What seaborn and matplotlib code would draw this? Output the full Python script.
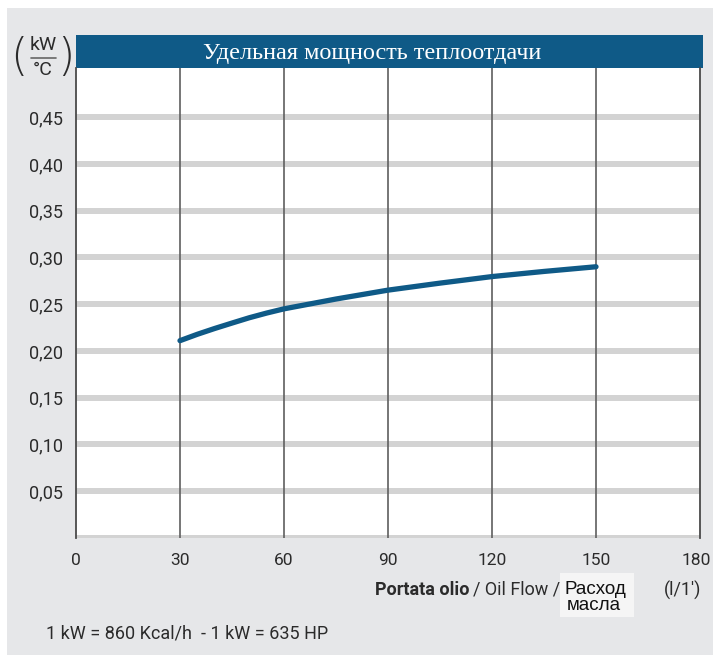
import matplotlib
matplotlib.use("Agg")
import matplotlib.pyplot as plt
import matplotlib.transforms as mtransforms
import seaborn as sns
from matplotlib.patches import Rectangle
from matplotlib.lines import Line2D

# data
flow = [30, 35, 40, 45, 50, 55, 60, 75, 90, 105, 120, 135, 150]
power = [0.211, 0.2178, 0.224, 0.2298, 0.2355, 0.2405, 0.245, 0.2555, 0.265,
         0.2725, 0.2795, 0.285, 0.290]
x_ticks = [0, 30, 60, 90, 120, 150, 180]
y_ticks = [0.05, 0.10, 0.15, 0.20, 0.25, 0.30, 0.35, 0.40, 0.45]
y_labels = ["0,05", "0,10", "0,15", "0,20", "0,25", "0,30", "0,35", "0,40", "0,45"]
title = "Удельная мощность теплоотдачи"

sns.set_theme(style="white")
narrow = ["Liberation Sans Narrow", "Roboto", "DejaVu Sans"]
plt.rcParams["font.family"] = narrow

W, H = 713, 655
BLUE = "#0f5a87"
BG = "#e6e7e9"
TXT = "#2b2b2b"


def fx(px):
    return px / W


def fy(py):
    return 1 - py / H


fig = plt.figure(figsize=(W / 100, H / 100), dpi=100)
fig.patch.set_facecolor(BG)
# thin white margin on top and left
fig.patches.append(Rectangle((0, fy(8)), 1, 1 - fy(8), transform=fig.transFigure,
                             facecolor="white", edgecolor="none", zorder=0))
fig.patches.append(Rectangle((0, 0), fx(7), 1, transform=fig.transFigure,
                             facecolor="white", edgecolor="none", zorder=0))

ax = fig.add_axes([fx(76), fy(538), fx(700) - fx(76), fy(68) - fy(538)])
ax.set_zorder(2)
ax.set_facecolor("white")
ax.set_xlim(0, 180)
ax.set_ylim(0, 0.5025)

for v in [0] + y_ticks:
    ax.axhline(v, color="#d3d3d3", lw=4.3, zorder=1, solid_capstyle="butt")
for v in x_ticks[1:-1]:
    ax.axvline(v, color="#5f5f5f", lw=1.2, zorder=2)

sns.lineplot(x=flow, y=power, ax=ax, color=BLUE, lw=3.8, zorder=3,
             solid_capstyle="round", solid_joinstyle="round")

for s in ["top", "bottom"]:
    ax.spines[s].set_visible(False)
for s in ["left", "right"]:
    ax.spines[s].set_color("#4a4a4a")
    ax.spines[s].set_linewidth(1.3)

ax.set_xticks(x_ticks)
ax.set_xticklabels([str(t) for t in x_ticks])
ax.set_yticks(y_ticks)
ax.set_yticklabels(y_labels)
ax.tick_params(axis="both", length=0, labelsize=13, colors=TXT)
ax.tick_params(axis="x", pad=11, labelsize=12.5)
ax.tick_params(axis="y", pad=9)
ax.set_xlabel("")
ax.set_ylabel("")
# nudge the last x label so it stays inside the picture
last = ax.get_xticklabels()[-1]
last.set_transform(last.get_transform()
                   + mtransforms.ScaledTranslation(-0.04, 0, fig.dpi_scale_trans))

# title bar
fig.patches.append(Rectangle((fx(76), fy(68)), fx(703) - fx(76), fy(35) - fy(68),
                             transform=fig.transFigure, facecolor=BLUE,
                             edgecolor="none", zorder=1))
fig.text(fx(372), fy(53), title, color="white", fontsize=17.5,
         family=["Liberation Serif", "DejaVu Serif"], ha="center", va="center")

# unit label
fig.text(fx(43), fy(45), "kW", fontsize=14, color=TXT, ha="center", va="center")
fig.text(fx(43), fy(70), "°C", fontsize=14, color=TXT, ha="center", va="center")
fig.lines.append(Line2D([fx(31), fx(56)], [fy(57.5), fy(57.5)], transform=fig.transFigure,
                        color="#666666", lw=1.2))
fig.text(fx(19), fy(57), "(", fontsize=32, color=TXT, ha="center", va="center",
         family=["DejaVu Sans"], fontweight="light")
fig.text(fx(66), fy(57), ")", fontsize=32, color=TXT, ha="center", va="center",
         family=["DejaVu Sans"], fontweight="light")

# x axis label
fig.text(fx(375), fy(590), "Portata olio", fontsize=13, fontweight="bold", color=TXT,
         ha="left", va="center")
fig.text(fx(473), fy(590), "/ Oil Flow /", fontsize=13, color=TXT, ha="left", va="center")
fig.patches.append(Rectangle((fx(560), fy(617)), fx(634) - fx(560), fy(573) - fy(617),
                             transform=fig.transFigure, facecolor="#f5f5f5",
                             edgecolor="none", zorder=1))
fig.text(fx(564), fy(589), "Расход", fontsize=13.5, color="#111111", ha="left",
         va="center", family=["Liberation Sans", "DejaVu Sans"])
fig.text(fx(567), fy(606), "масла", fontsize=13.5, color="#111111", ha="left",
         va="center", family=["Liberation Sans", "DejaVu Sans"])
fig.text(fx(683), fy(590), "(l/1')", fontsize=13, color=TXT, ha="center", va="center")

fig.text(fx(46), fy(633), "1 kW = 860 Kcal/h  - 1 kW = 635 HP", fontsize=13,
         color=TXT, ha="left", va="center")

fig.savefig("out.png", dpi=100, facecolor=fig.get_facecolor())
